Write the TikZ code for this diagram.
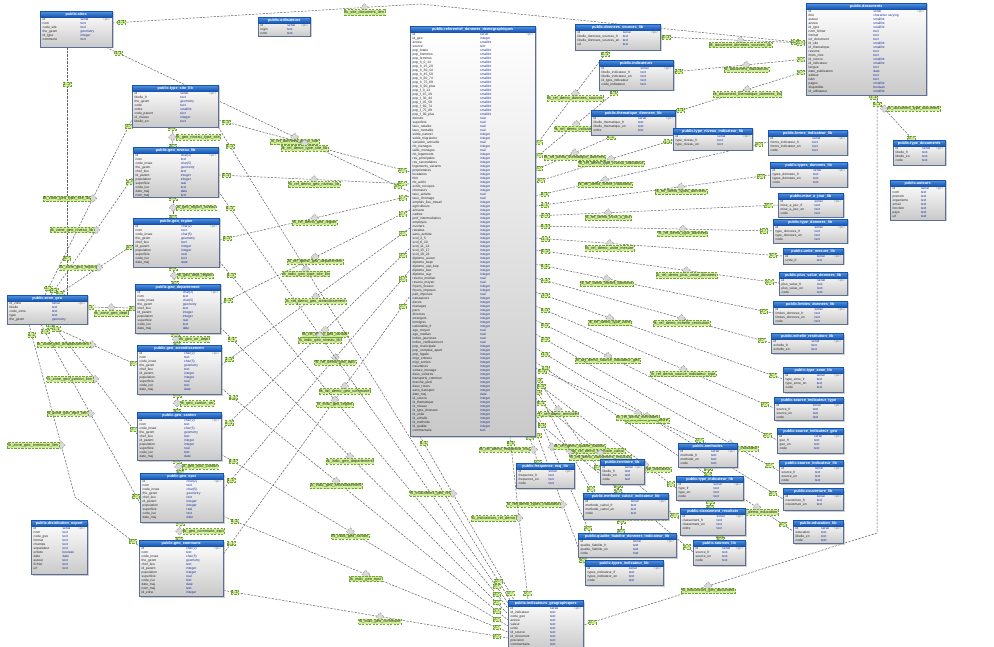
\documentclass[tikz,border=0pt]{standalone}
\usepackage{fontspec}
\setmainfont{Liberation Sans}
\usetikzlibrary{calc,shapes.geometric,shadows}
\pgfdeclarelayer{background}
\pgfsetlayers{background,main}
\definecolor{hdrA}{RGB}{80,148,226}
\definecolor{hdrB}{RGB}{22,84,176}
\definecolor{lblfill}{RGB}{208,238,150}
\definecolor{lbldraw}{RGB}{110,165,50}
\definecolor{typeblue}{RGB}{28,48,150}
\definecolor{bodyline}{RGB}{90,110,150}
\newcommand\rowf{\fontsize{3.3}{3.6}\selectfont}
\newcommand\hdrf{\fontsize{3.8}{4}\selectfont\bfseries}
\newcommand\lblf{\fontsize{3.9}{4.2}\selectfont}
\tikzset{
 tbody/.style={draw=bodyline, top color=white, bottom color=gray!42, inner sep=0pt,
   drop shadow={shadow xshift=1.3pt,shadow yshift=-1.3pt,fill=gray!70,opacity=.55}},
 thead/.style={draw=hdrB, top color=hdrA, bottom color=hdrB, text=white, font=\hdrf,
   inner sep=0pt, minimum height=5.8pt, text height=2.8pt, text depth=.8pt},
 rn/.style={font=\rowf, text=black!85, inner sep=0pt, anchor=west},
 rt/.style={font=\rowf, text=typeblue, inner sep=0pt, anchor=west},
 rk/.style={font=\rowf, text=gray, inner sep=0pt, anchor=east},
 fkl/.style={draw=black!62, dash pattern=on 2.2pt off 1.3pt, line width=.5pt},
 lbl/.style={fill=lblfill, draw=lbldraw, font=\lblf, text=black!85, inner sep=.8pt},
 card/.style={fill=lblfill, draw=lbldraw, font=\lblf, text=black!85, inner sep=.7pt},
 dia/.style={diamond, draw=gray!75, fill=gray!30, minimum size=8pt, inner sep=0pt},
}
\newcommand\dbt[7]{%
  \node[tbody,anchor=north west,minimum width=#4pt,minimum height=#5pt] (#1) at (#2,#3) {};
  \node[thead,anchor=north west,minimum width=#4pt] (#1-h) at (#2,#3) {public.#6};
  \node[rk] (#1-pk) at (#2+#4-1.5,#3+8.5) {<pk>};
  \foreach \cn/\ct [count=\k] in #7 {%
    \pgfmathtruncatemacro\okk{(5.8+4*\k<#5)?1:0}%
    \ifnum\okk=1\relax
      \node[rn] (#1-n\k) at (#2+2.5,#3+4.5+4*\k) {\cn};
      \node[rt] (#1-t\k) at ({#2+0.56*#4},#3+4.5+4*\k) {\ct};
    \fi
  }%
}
\newcommand\fk[6]{%
  \draw[fkl] #2 -- node[dia,pos=#5] (#1-d) {} node[lbl,pos=#5,#6] (#1-l) {#4}
    node[card,pos=.04] (#1-a) {1..1} node[card,pos=.96] (#1-b) {0..*} #3;}
\newcommand\fkp[3]{%
  \draw[fkl] #2 -- node[card,pos=.15] (#1-a) {1..1} node[card,pos=.85] (#1-b) {0..*} #3;}
\def\geoRows{id/char(2), nom/text, code\_insee/char(5), the\_geom/geometry, chef\_lieu/text, id\_parent/integer, population/integer, superficie/real, code\_iso/text, date\_maj/date, nom\_maj/text, id\_zone/integer}
\def\mainRows{id/serial, id\_geo/integer, annee/smallint, source/text, pop\_totale/smallint, pop\_hommes/smallint, pop\_femmes/smallint, pop\_h\_0\_14/smallint, pop\_h\_15\_29/smallint, pop\_h\_30\_44/smallint, pop\_h\_45\_59/smallint, pop\_h\_60\_74/smallint, pop\_h\_75\_89/smallint, pop\_h\_90\_plus/smallint, pop\_f\_0\_14/smallint, pop\_f\_15\_29/smallint, pop\_f\_30\_44/smallint, pop\_f\_45\_59/smallint, pop\_f\_60\_74/smallint, pop\_f\_75\_89/smallint, pop\_f\_90\_plus/smallint, densite/real, superficie/real, taux\_natalite/real, taux\_mortalite/real, solde\_naturel/integer, solde\_migratoire/integer, variation\_annuelle/real, nb\_menages/integer, taille\_menages/real, nb\_logements/integer, res\_principales/integer, res\_secondaires/integer, logements\_vacants/integer, proprietaires/integer, locataires/integer, hlm/integer, nb\_actifs/integer, actifs\_occupes/integer, chomeurs/integer, taux\_activite/real, taux\_chomage/real, emplois\_lieu\_travail/integer, agriculteurs/integer, artisans/integer, cadres/integer, prof\_intermediaires/integer, employes/integer, ouvriers/integer, retraites/integer, sans\_activite/integer, scol\_2\_5/integer, scol\_6\_10/integer, scol\_11\_14/integer, scol\_15\_17/integer, scol\_18\_24/integer, diplome\_aucun/integer, diplome\_bepc/integer, diplome\_cap\_bep/integer, diplome\_bac/integer, diplome\_sup/integer, revenu\_median/real, revenu\_moyen/real, foyers\_fiscaux/integer, foyers\_imposes/integer, part\_imposes/real, naissances/integer, deces/integer, mariages/integer, pacs/integer, divorces/integer, etrangers/integer, immigres/integer, nationalite\_fr/integer, age\_moyen/real, age\_median/real, indice\_jeunesse/real, indice\_vieillissement/real, pop\_municipale/integer, pop\_comptee\_apart/integer, pop\_legale/integer, migr\_entrees/integer, migr\_sorties/integer, navetteurs/integer, voiture\_menage/integer, deux\_voitures/integer, transports\_commun/integer, marche\_pied/integer, deux\_roues/integer, sans\_transport/integer, date\_maj/date, id\_source/integer, id\_thematique/integer, id\_niveau/integer, id\_type\_donnees/integer, id\_unite/integer, id\_echelle/integer, id\_methode/integer, id\_qualite/integer, commentaire/text}
\def\docRows{id/serial, titre/character varying, auteur/smallint, annee/smallint, id\_type/smallint, nom\_fichier/text, format/text, url\_document/text, id\_site/smallint, id\_thematique/smallint, resume/text, mots\_cles/text, id\_source/smallint, id\_indicateur/smallint, langue/text, date\_publication/date, editeur/text, isbn/text, pages/smallint, disponible/boolean, id\_utilisateur/smallint}
\begin{document}
\begin{tikzpicture}[x=1pt,y=-1pt]
\useasboundingbox (0,0) rectangle (994,647);
% ---------------- tables ----------------
\dbt{sites}{40}{11}{72}{36}{sites}{{id/serial, nom/text, code\_site/text, the\_geom/geometry, id\_type/integer, commune/text}}
\dbt{users}{258}{17}{52}{19}{utilisateurs}{{id/serial, login/text, nom/text}}
\dbt{T1}{132}{85}{86}{42}{type\_site\_lib}{{id/serial, libelle\_fr/text, the\_geom/geometry, code/text, ordre/smallint, code\_parent/text, id\_niveau/integer, libelle\_en/text}}
\dbt{T2}{133}{147}{85}{50}{geo\_niveau\_lib}{\geoRows}
\dbt{T3}{133}{218}{86}{49}{geo\_region}{\geoRows}
\dbt{T4}{135}{284}{85}{49}{geo\_departement}{\geoRows}
\dbt{T5}{137}{345}{84}{49}{geo\_arrondissement}{\geoRows}
\dbt{T6}{137}{412}{84}{48}{geo\_canton}{\geoRows}
\dbt{T7}{140}{473}{83}{49}{geo\_epci}{\geoRows}
\dbt{T8}{139}{540}{84}{56}{geo\_commune}{\geoRows}
\dbt{zones}{7}{295}{80}{29}{zone\_geo}{{id\_zone/serial, libelle/text, code\_zone/text, type/text, the\_geom/geometry}}
\dbt{dist}{31}{520}{56}{54}{distribution\_export}{{id/serial, nom/text, code\_geo/text, format/text, champs/text, separateur/text, entete/boolean, date/date, auteur/text, fichier/text, url/text}}
\dbt{main}{410}{26}{125}{410}{referentiel\_donnees\_demographiques}{\mainRows}
\dbt{bottom}{508}{600}{75}{50}{indicateurs\_geographiques}{{id/serial, id\_indicateur/text, code\_geo/text, annee/text, valeur/text, unite/text, id\_source/text, id\_document/text, precision/text, commentaire/text, date\_maj/text}}
\dbt{TR1}{575}{24}{85}{26}{donnees\_sources\_lib}{{id/serial, libelle\_donnees\_sources\_fr/text, libelle\_donnees\_sources\_en/text, url/text}}
\dbt{TR2}{599}{60}{74}{30}{indicateurs}{{id/serial, libelle\_indicateur\_fr/text, libelle\_indicateur\_en/text, id\_type\_indicateur/text, code\_indicateur/text}}
\dbt{TR3}{591}{110}{84}{25}{thematique\_donnees\_lib}{{id/serial, libelle\_thematique\_fr/text, libelle\_thematique\_en/text, ordre/text}}
\dbt{TR4}{673}{128}{79}{22}{type\_niveau\_indicateur\_lib}{{id/serial, type\_niveau\_fr/text, type\_niveau\_en/text}}
\dbt{documents}{806}{3}{120}{92}{documents}{\docRows}
\dbt{typedoc}{893}{140}{52}{25}{type\_documents}{{id/serial, libelle\_fr/text, libelle\_en/text, code/text}}
\dbt{auteurs}{890}{180}{55}{40}{auteurs}{{id/serial, nom/text, prenom/text, organisme/text, email/text, fonction/text, pays/text, url/text}}
\dbt{R1}{768}{130}{79}{25}{forme\_indicateur\_lib}{{id/serial, forme\_indicateur\_fr/text, forme\_indicateur\_en/text, code/text}}
\dbt{R2}{770}{162}{77}{25}{types\_donnees\_lib}{{id/serial, types\_donnees\_fr/text, types\_donnees\_en/text, code/text}}
\dbt{R3}{778}{193}{65}{24}{mise\_a\_jour\_lib}{{id/serial, mise\_a\_jour\_fr/text, mise\_a\_jour\_en/text, code/text}}
\dbt{R4}{773}{219}{74}{24}{type\_donnees\_lib}{{id/serial, type\_donnees\_fr/text, type\_donnees\_en/text, code/text}}
\dbt{R5}{783}{248}{60}{16}{unite\_mesure\_lib}{{id/serial, unite\_fr/text}}
\dbt{R6}{779}{272}{68}{23}{plus\_value\_donnees\_lib}{{id/serial, plus\_value\_fr/text, plus\_value\_en/text, code/text}}
\dbt{R7}{773}{301}{74}{23}{limites\_donnees\_lib}{{id/serial, limites\_donnees\_fr/text, limites\_donnees\_en/text, code/text}}
\dbt{R8}{771}{333}{72}{20}{echelle\_restitution\_lib}{{id/serial, echelle\_fr/text, echelle\_en/text}}
\dbt{R9}{783}{367}{60}{25}{type\_zone\_lib}{{id/serial, type\_zone\_fr/text, type\_zone\_en/text, code/text}}
\dbt{R10}{774}{397}{69}{23}{source\_indicateur\_type}{{id/serial, source\_fr/text, source\_en/text, code/text}}
\dbt{R11}{777}{428}{66}{25}{source\_indicateur\_geo}{{id/serial, geo\_fr/text, geo\_en/text, code/text}}
\dbt{R12}{779}{460}{64}{23}{source\_indicateur\_lib}{{id/serial, source\_fr/text, source\_en/text, code/text}}
\dbt{R13}{783}{488}{60}{22}{couverture\_lib}{{id/serial, couverture\_fr/text, couverture\_en/text}}
\dbt{R14}{793}{520}{50}{23}{education\_lib}{{id/serial, education/text, libelle\_en/text, code/text}}
\dbt{B1}{516}{463}{58}{25}{frequence\_maj\_lib}{{id/serial, frequence\_fr/text, frequence\_en/text, code/text}}
\dbt{B2}{600}{459}{44}{25}{territoire\_lib}{{id/serial, libelle\_fr/text, libelle\_en/text, code/text}}
\dbt{B3}{678}{443}{59}{24}{methodes}{{id/serial, methode\_fr/text, methode\_en/text, code/text}}
\dbt{B4}{583}{493}{85}{26}{methode\_calcul\_indicateur\_lib}{{id/serial, methode\_calcul\_fr/text, methode\_calcul\_en/text, code/text}}
\dbt{B5}{676}{476}{67}{24}{type\_indicateur\_lib}{{id/serial, type\_fr/text, type\_en/text, code/text}}
\dbt{B6}{680}{508}{65}{27}{classement\_resultats}{{id/serial, classement\_fr/text, classement\_en/text, ordre/text}}
\dbt{B7}{578}{533}{98}{24}{qualite\_fiabilite\_donnees\_indicateur\_lib}{{id/serial, qualite\_fiabilite\_fr/text, qualite\_fiabilite\_en/text, code/text}}
\dbt{B8}{693}{540}{52}{25}{sources\_lib}{{id/serial, source\_fr/text, source\_en/text, code/text}}
\dbt{B9}{585}{560}{78}{25}{types\_indicateur\_lib}{{id/serial, types\_indicateur\_fr/text, types\_indicateur\_en/text, code/text}}
% ---------------- connectors ----------------
\begin{pgfonlayer}{background}
\fill[white] (0,0) rectangle (994,647);
\coordinate (bend1) at (420,4);
\draw[fkl] ($(sites.north east)+(0,12)$) -- node[card,pos=.03] (sd-a) {1..1} node[dia,pos=.82] (sd-d) {} node[lbl,pos=.82,below=2pt] (sd-l) {fk\_site\_document\_lien} (bend1) -- node[card,pos=.97] (sd-b) {0..*} ($(documents.north west)+(0,40)$);
\fk{c2}{($(sites.south east)+(-6,0)$)}{($(main.north west)+(0,166)$)}{fk\_ref\_donnees\_demo\_site}{.62}{below=2pt}
\fkp{c3}{($(sites.south west)+(27,0)$)}{($(zones.north west)+(60,0)$)}
% left tables -> main
\fk{m1}{($(T1.north east)+(0,35)$)}{($(main.north west)+(0,146)$)}{fk\_ref\_demo\_type\_site\_lib}{.45}{below=2pt}
\fk{m2}{($(T2.north east)+(0,28)$)}{($(main.north west)+(0,158)$)}{fk\_ref\_demo\_geo\_niveau\_lib}{.5}{below=2pt}
\fk{m3}{($(T3.north east)+(0,22)$)}{($(main.north west)+(0,170)$)}{fk\_ref\_demo\_geo\_region}{.5}{below=2pt}
\fk{m4}{($(T4.north east)+(0,20)$)}{($(main.north west)+(0,184)$)}{fk\_ref\_demo\_geo\_departement}{.5}{below=2pt}
\fk{m5}{($(T5.north east)+(0,20)$)}{($(main.north west)+(0,202)$)}{fk\_ref\_demo\_geo\_arrondissement}{.5}{below=2pt}
\fk{m6}{($(T6.north east)+(0,18)$)}{($(main.north west)+(0,222)$)}{fk\_ref\_demo\_geo\_canton}{.55}{below=2pt}
\fk{m7}{($(T7.north east)+(0,16)$)}{($(main.north west)+(0,244)$)}{fk\_ref\_demo\_geo\_epci}{.6}{below=2pt}
\fk{m8}{($(T8.north east)+(0,14)$)}{($(main.north west)+(0,270)$)}{fk\_ref\_demo\_geo\_commune}{.65}{below=2pt}
% left tables -> bottom
\fk{b1}{($(T1.south east)+(0,0)$)}{($(bottom.north west)+(2,0)$)}{fk\_indic\_geo\_type\_site\_lib}{.3}{below=2pt}
\fk{b2}{($(T2.south east)+(0,-6)$)}{($(bottom.north west)+(0,3)$)}{fk\_indic\_geo\_niveau\_lib}{.35}{below=2pt}
\fk{b3}{($(T3.south east)+(0,-6)$)}{($(bottom.north west)+(0,8)$)}{fk\_indic\_geo\_region}{.4}{below=2pt}
\fk{b4}{($(T4.south east)+(0,-6)$)}{($(bottom.north west)+(0,14)$)}{fk\_indic\_geo\_departement}{.45}{below=2pt}
\fk{b5}{($(T5.south east)+(0,-6)$)}{($(bottom.north west)+(0,20)$)}{fk\_indic\_geo\_arrondissement}{.4}{below=2pt}
\fk{b6}{($(T6.south east)+(0,-6)$)}{($(bottom.north west)+(0,26)$)}{fk\_indic\_geo\_canton}{.45}{below=2pt}
\fk{b7}{($(T7.south east)+(0,-6)$)}{($(bottom.north west)+(0,32)$)}{fk\_indic\_geo\_epci}{.5}{below=2pt}
\fk{b8}{($(T8.south east)+(0,-6)$)}{($(bottom.north west)+(0,38)$)}{fk\_indic\_geo\_commune}{.55}{below=2pt}
% vertical chain
\fk{ch1}{($(T1.south west)+(40,0)$)}{($(T2.north west)+(40,0)$)}{fk\_geo\_niveau\_type\_site}{.5}{right=3pt}
\fk{ch2}{($(T2.south west)+(40,0)$)}{($(T3.north west)+(40,0)$)}{fk\_geo\_region\_niveau}{.5}{right=3pt}
\fk{ch3}{($(T3.south west)+(40,0)$)}{($(T4.north west)+(40,0)$)}{fk\_geo\_dept\_region}{.5}{right=3pt}
\fk{ch4}{($(T4.south west)+(40,0)$)}{($(T5.north west)+(40,0)$)}{fk\_geo\_arr\_dept}{.5}{right=3pt}
\fk{ch5}{($(T5.south west)+(40,0)$)}{($(T6.north west)+(40,0)$)}{fk\_geo\_canton\_arr}{.5}{right=3pt}
\fk{ch6}{($(T6.south west)+(40,0)$)}{($(T7.north west)+(40,0)$)}{fk\_geo\_epci\_canton}{.5}{right=3pt}
\fk{ch7}{($(T7.south west)+(40,0)$)}{($(T8.north west)+(40,0)$)}{fk\_geo\_commune\_epci}{.5}{right=3pt}
% zones -> left tables
\fk{z1}{($(zones.north west)+(38,0)$)}{($(T1.south west)+(0,-8)$)}{fk\_zone\_geo\_type\_site\_lib}{.55}{left=2pt}
\fk{z2}{($(zones.north west)+(44,0)$)}{($(T2.north west)+(0,30)$)}{fk\_zone\_geo\_niveau\_lib}{.55}{left=2pt}
\fk{z3}{($(zones.north west)+(50,0)$)}{($(T3.north west)+(0,27)$)}{fk\_zone\_geo\_region}{.55}{left=2pt}
\fk{z4}{($(zones.north east)+(0,12)$)}{($(T4.north west)+(0,24)$)}{fk\_zone\_geo\_dept}{.5}{below=3pt}
\fk{z5}{($(zones.south west)+(40,0)$)}{($(T5.north west)+(0,20)$)}{fk\_zone\_geo\_arrondissement}{.5}{left=2pt}
\fk{z6}{($(zones.south west)+(46,0)$)}{($(T6.north west)+(0,22)$)}{fk\_zone\_geo\_canton\_lien}{.5}{left=2pt}
\fk{z7}{($(zones.south west)+(34,0)$)}{($(T7.north west)+(0,30)$)}{fk\_zone\_geo\_epci\_lien}{.5}{left=2pt}
\coordinate (zbend) at (75,497);
\draw[fkl] ($(zones.south west)+(22,0)$) -- node[card,pos=.06] (z8-a) {1..1} node[dia,pos=.7] (z8-d) {} node[lbl,pos=.7,left=2pt] (z8-l) {fk\_zone\_geo\_commune\_lien} (zbend) -- node[card,pos=.9] (z8-b) {0..*} ($(T8.north west)+(0,6)$);
% top right
\fk{t1}{($(TR1.south west)+(33,0)$)}{($(main.north east)+(0,120)$)}{fk\_ref\_demo\_donnees\_sources}{.45}{below=2pt}
\fk{t2}{($(TR2.south west)+(18,0)$)}{($(main.north east)+(0,132)$)}{fk\_ref\_demo\_indicateurs}{.5}{below=2pt}
\fk{t3}{($(TR3.south west)+(23,0)$)}{($(main.north east)+(0,144)$)}{fk\_ref\_demo\_thematique\_donnees}{.5}{below=2pt}
\fk{t4}{($(TR4.north west)+(0,12)$)}{($(main.north east)+(0,156)$)}{fk\_ref\_demo\_type\_niveau\_indicateur}{.45}{below=2pt}
\fk{d1}{($(TR1.north east)+(0,13)$)}{($(documents.north west)+(0,40)$)}{fk\_document\_donnees\_sources\_lib}{.55}{below=2pt}
\fk{d2}{($(TR2.north east)+(0,12)$)}{($(documents.north west)+(0,56)$)}{fk\_document\_indicateurs}{.55}{below=2pt}
\fk{d3}{($(TR3.north east)+(0,2)$)}{($(documents.north west)+(0,68)$)}{fk\_document\_thematique\_donnees\_lib}{.55}{below=2pt}
\fk{dt}{($(documents.south west)+(66,0)$)}{($(typedoc.north west)+(20,0)$)}{fk\_document\_type\_document}{.3}{right=3pt}
\coordinate (vbend) at (877,533);
\draw[fkl] ($(documents.south west)+(71,0)$) -- node[card,pos=.02] (db-a) {1..1} (vbend) -- node[dia,pos=.575] (db-d) {} node[lbl,pos=.575,below=2pt] (db-l) {fk\_indicateurs\_geo\_document} node[card,pos=.97] (db-b) {0..*} ($(bottom.north east)+(0,25)$);
% main -> right column
\fk{r1}{($(main.north east)+(0,170)$)}{($(R1.north west)+(0,12)$)}{fk\_ref\_demo\_forme\_indicateur}{.3}{below=2pt}
\fk{r2}{($(main.north east)+(0,180)$)}{($(R2.north west)+(0,13)$)}{fk\_ref\_demo\_types\_donnees}{.62}{below=2pt}
\fk{r3}{($(main.north east)+(0,190)$)}{($(R3.north west)+(0,12)$)}{fk\_ref\_demo\_mise\_a\_jour}{.3}{below=2pt}
\fk{r4}{($(main.north east)+(0,200)$)}{($(R4.north west)+(0,12)$)}{fk\_ref\_demo\_type\_donnees}{.62}{below=2pt}
\fk{r5}{($(main.north east)+(0,212)$)}{($(R5.north west)+(0,8)$)}{fk\_ref\_demo\_unite\_mesure}{.3}{below=2pt}
\fk{r6}{($(main.north east)+(0,224)$)}{($(R6.north west)+(0,11)$)}{fk\_ref\_demo\_plus\_value\_donnees}{.62}{below=2pt}
\fk{r7}{($(main.north east)+(0,238)$)}{($(R7.north west)+(0,12)$)}{fk\_ref\_demo\_limites\_donnees}{.3}{below=2pt}
\fk{r8}{($(main.north east)+(0,252)$)}{($(R8.north west)+(0,10)$)}{fk\_ref\_demo\_echelle\_restitution}{.62}{below=2pt}
\fk{r9}{($(main.north east)+(0,266)$)}{($(R9.north west)+(0,12)$)}{fk\_ref\_demo\_type\_zone}{.3}{below=2pt}
\fk{r10}{($(main.north east)+(0,280)$)}{($(R10.north west)+(0,11)$)}{fk\_ref\_demo\_source\_indicateur\_type}{.62}{below=2pt}
\fk{r11}{($(main.north east)+(0,294)$)}{($(R11.north west)+(0,12)$)}{fk\_ref\_demo\_source\_indicateur\_geo}{.3}{below=2pt}
\fk{r12}{($(main.north east)+(0,308)$)}{($(R12.north west)+(0,11)$)}{fk\_ref\_demo\_source\_indicateur}{.8}{below=2pt}
\fk{r13}{($(main.north east)+(0,322)$)}{($(R13.north west)+(0,11)$)}{fk\_ref\_demo\_couverture}{.45}{below=2pt}
\fk{r14}{($(main.north east)+(0,336)$)}{($(R14.north west)+(0,11)$)}{fk\_ref\_demo\_education}{.86}{below=2pt}
% main -> bottom cluster
\fk{g1}{($(main.south east)+(-6,0)$)}{($(B1.north west)+(22,0)$)}{fk\_ref\_demo\_frequence\_maj}{.5}{left=3pt}
\fk{g2}{($(main.north east)+(0,350)$)}{($(B2.north west)+(0,12)$)}{fk\_ref\_demo\_territoire}{.35}{below=2pt}
\fk{g3}{($(main.north east)+(0,342)$)}{($(B3.north west)+(28,0)$)}{fk\_ref\_demo\_methodes}{.6}{below=2pt}
\fk{g4}{($(main.north east)+(0,362)$)}{($(B4.north west)+(10,0)$)}{fk\_ref\_demo\_methode\_calcul}{.6}{right=2pt}
\fk{g5}{($(main.north east)+(0,356)$)}{($(B5.north west)+(0,12)$)}{fk\_ref\_demo\_type\_indicateur}{.78}{below=2pt}
\fk{g6}{($(main.north east)+(0,372)$)}{($(B6.north west)+(0,12)$)}{fk\_ref\_demo\_classement\_resultats}{.45}{below=2pt}
\fk{g7}{($(main.north east)+(0,384)$)}{($(B7.north west)+(12,0)$)}{fk\_ref\_demo\_qualite\_fiabilite}{.3}{right=2pt}
\fk{g8}{($(main.north east)+(0,394)$)}{($(B8.north west)+(0,12)$)}{fk\_ref\_demo\_sources\_lib}{.7}{below=2pt}
\fk{g9}{($(main.north east)+(0,404)$)}{($(B9.north west)+(0,6)$)}{fk\_ref\_demo\_types\_indicateur}{.55}{left=2pt}
\fkp{h1}{($(B3.south west)+(30,0)$)}{($(B5.north west)+(32,0)$)}
\fkp{h2}{($(B5.south west)+(34,0)$)}{($(B6.north west)+(30,0)$)}
\fkp{h3}{($(B6.south west)+(40,0)$)}{($(B8.north west)+(27,0)$)}
\fkp{h4}{($(B2.south west)+(18,0)$)}{($(B4.north west)+(35,0)$)}
\fkp{h5}{($(B4.south west)+(38,0)$)}{($(B7.north west)+(43,0)$)}
% main -> bottom
\fk{mb}{($(main.south west)+(100,0)$)}{($(bottom.north west)+(20,0)$)}{fk\_indicateurs\_ref\_demo}{.5}{left=3pt}
\fk{mb2}{($(main.south west)+(10,0)$)}{($(bottom.north west)+(6,0)$)}{fk\_indicateurs\_geo\_ref}{.35}{left=2pt}
\end{pgfonlayer}
\end{tikzpicture}
\end{document}
